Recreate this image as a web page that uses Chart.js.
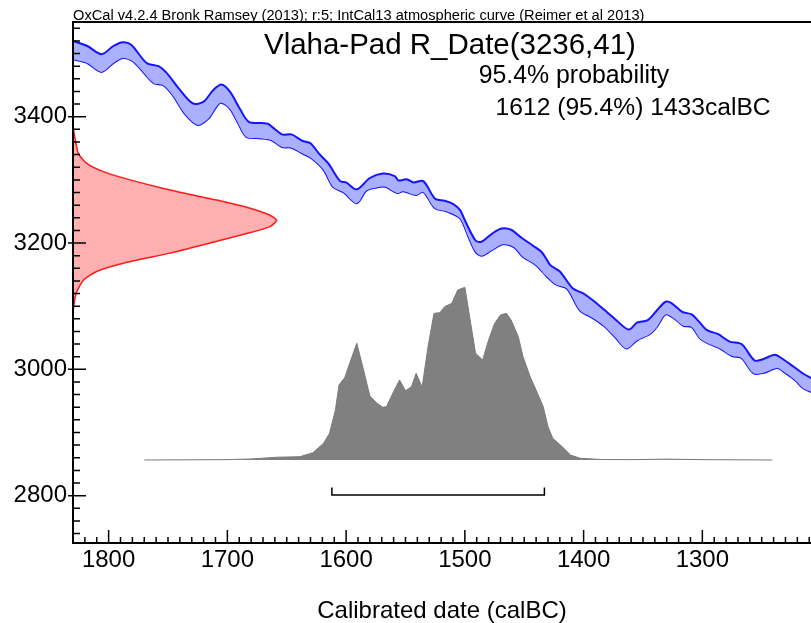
<!DOCTYPE html>
<html>
<head>
<meta charset="utf-8">
<script src="https://cdn.jsdelivr.net/npm/chart.js@4"></script>
<style>
  html, body { margin: 0; padding: 0; background: #fff; }
  #wrap { width: 811px; height: 623px; }
</style>
</head>
<body>
<div id="wrap"><canvas id="myChart" width="811" height="623"></canvas></div>
<script>
const FONT = '"Liberation Sans", Arial, Helvetica, sans-serif';

// axis tick labels
const xTickValues = [1800, 1700, 1600, 1500, 1400, 1300];
const yTickValues = [2800, 3000, 3200, 3400];

// calibration curve (IntCal13, 1 sigma band), calBC vs radiocarbon age BP
const upperYears = [1830, 1818, 1806, 1796, 1788, 1781, 1768, 1758, 1751, 1741,
  1729, 1720, 1712, 1705, 1698, 1689, 1682, 1671, 1666, 1661,
  1654, 1646, 1637, 1630, 1623, 1615, 1605, 1600, 1591, 1580,
  1569, 1559, 1556, 1549, 1543, 1535, 1525, 1517, 1510, 1504,
  1500, 1491, 1486, 1477, 1469, 1461, 1452, 1442, 1435, 1428,
  1420, 1409, 1400, 1392, 1380, 1372, 1362, 1355, 1346, 1338,
  1331, 1326, 1317, 1309, 1303, 1296, 1287, 1277, 1267, 1256,
  1249, 1239, 1232, 1223, 1215, 1208];
const upperAge = [3520, 3512, 3499, 3512, 3518, 3514, 3485, 3480, 3469, 3445,
  3421, 3424, 3442, 3451, 3440, 3411, 3392, 3390, 3389, 3382,
  3372, 3372, 3362, 3358, 3342, 3326, 3298, 3296, 3285, 3303,
  3310, 3306, 3299, 3301, 3296, 3298, 3270, 3267, 3262, 3252,
  3236, 3204, 3202, 3215, 3223, 3221, 3208, 3195, 3185, 3165,
  3155, 3128, 3120, 3109, 3090, 3077, 3063, 3074, 3078, 3094,
  3107, 3105, 3091, 3087, 3076, 3062, 3056, 3044, 3040, 3014,
  3016, 3023, 3016, 3004, 2993, 2986];

const lowerYears = [1830, 1818, 1806, 1796, 1788, 1779, 1762, 1754, 1746, 1736,
  1725, 1716, 1706, 1698, 1691, 1684, 1673, 1663, 1654, 1646,
  1637, 1629, 1619, 1611, 1602, 1591, 1583, 1574, 1567, 1557,
  1552, 1541, 1535, 1525, 1515, 1504, 1497, 1491, 1486, 1477,
  1468, 1459, 1451, 1440, 1431, 1423, 1414, 1403, 1393, 1383,
  1373, 1364, 1355, 1344, 1338, 1331, 1324, 1316, 1309, 1302,
  1295, 1285, 1275, 1267, 1257, 1249, 1237, 1230, 1222, 1215,
  1208];
const lowerAge = [3491, 3485, 3471, 3485, 3493, 3487, 3453, 3450, 3434, 3405,
  3387, 3397, 3422, 3413, 3390, 3368, 3366, 3363, 3352, 3351,
  3342, 3334, 3316, 3289, 3280, 3263, 3283, 3288, 3289, 3279,
  3282, 3276, 3281, 3255, 3250, 3239, 3210, 3186, 3180, 3189,
  3198, 3194, 3178, 3165, 3147, 3134, 3128, 3093, 3082, 3069,
  3050, 3033, 3046, 3056, 3068, 3087, 3081, 3069, 3067, 3049,
  3041, 3033, 3021, 3018, 2994, 2994, 3002, 2994, 2983, 2970,
  2964];

// measured radiocarbon date (3236 +/- 41), relative density
const redAge = [3385, 3374, 3342, 3326, 3313, 3300, 3284, 3268, 3255, 3244, 3236,
  3226, 3215, 3200, 3184, 3168, 3155, 3141, 3120, 3094, 3085];
const redDensity = [0, 0.005, 0.026, 0.067, 0.149, 0.28, 0.476, 0.705, 0.869, 0.967, 1.0,
  0.967, 0.853, 0.673, 0.476, 0.247, 0.116, 0.051, 0.015, 0.001, 0];

// calibrated probability, relative
const grayYears = [1770, 1700, 1680, 1658, 1639, 1628, 1619, 1614, 1609, 1606,
  1601, 1597, 1591, 1586, 1580, 1574, 1569, 1566, 1560, 1555,
  1550, 1545, 1541, 1536, 1531, 1526, 1521, 1517, 1511, 1506,
  1500, 1496, 1491, 1485, 1480, 1475, 1470, 1465, 1461, 1455,
  1451, 1445, 1440, 1434, 1430, 1426, 1418, 1411, 1403, 1386,
  1360, 1330, 1300, 1241];
const grayProb = [0, 0.002, 0.006, 0.016, 0.019, 0.042, 0.097, 0.154, 0.29, 0.434,
  0.479, 0.56, 0.676, 0.54, 0.37, 0.328, 0.305, 0.309, 0.396, 0.463,
  0.401, 0.424, 0.502, 0.421, 0.656, 0.849, 0.853, 0.888, 0.907, 0.984,
  1.0, 0.83, 0.618, 0.579, 0.695, 0.79, 0.84, 0.849, 0.81, 0.714,
  0.598, 0.482, 0.405, 0.309, 0.193, 0.126, 0.077, 0.029, 0.01, 0.003,
  0.002, 0.005, 0.002, 0];

// 95.4% range
const rangeFrom = 1612;
const rangeTo = 1433;

const pts = (xs, ys) => xs.map((x, i) => ({ x: x, y: ys[i] }));

function fitText(c, text, x, y, width) {
  c.font = '100px ' + FONT;
  const w = c.measureText(text).width;
  c.font = (100 * width / w).toFixed(2) + 'px ' + FONT;
  c.textAlign = 'left';
  c.textBaseline = 'alphabetic';
  c.fillText(text, x, y);
}

const frame = {
  id: 'frame',
  afterDatasetsDraw(chart) {
    const c = chart.ctx, a = chart.chartArea;
    const xs = chart.scales.x, ys = chart.scales.y;
    c.save();
    c.strokeStyle = '#000';
    c.lineWidth = 1.5;
    c.beginPath();
    for (let v = 1210; v <= 1830; v += 10) {
      const px = xs.getPixelForValue(v);
      const len = v % 100 === 0 ? 13 : 6;
      c.moveTo(px, a.bottom);
      c.lineTo(px, a.bottom - len);
    }
    for (let v = 2740; v <= 3540; v += 20) {
      const py = ys.getPixelForValue(v);
      const major = v % 200 === 0;
      c.moveTo(a.left - (major ? 5 : 0), py);
      c.lineTo(a.left + (major ? 13 : 7), py);
    }
    c.stroke();
    c.lineWidth = 2;
    c.beginPath();
    c.moveTo(chart.width, a.top);
    c.lineTo(a.left, a.top);
    c.lineTo(a.left, a.bottom);
    c.lineTo(chart.width, a.bottom);
    c.stroke();

    c.fillStyle = '#000';
    fitText(c, 'OxCal v4.2.4 Bronk Ramsey (2013); r:5; IntCal13 atmospheric curve (Reimer et al 2013)', 73, 19.5, 572);
    fitText(c, 'Vlaha-Pad R_Date(3236,41)', 264, 53.7, 372);
    fitText(c, '95.4% probability', 478.7, 83.4, 190.6);
    fitText(c, '1612 (95.4%) 1433calBC', 495.6, 115.1, 275);
    c.restore();
  }
};

const ctx = document.getElementById('myChart');
new Chart(ctx, {
  type: 'line',
  data: {
    datasets: [
      {
        data: pts(upperYears, upperAge),
        borderColor: '#1414ff',
        backgroundColor: '#aab0ff',
        borderWidth: 2,
        pointRadius: 0,
        tension: 0.3,
        fill: '+1',
      },
      {
        data: pts(lowerYears, lowerAge),
        borderColor: '#1414ff',
        borderWidth: 2,
        pointRadius: 0,
        tension: 0.3,
        fill: false,
      },
      {
        data: pts(redDensity, redAge),
        xAxisID: 'xd',
        borderColor: '#ff1a1a',
        backgroundColor: '#ffb0b0',
        borderWidth: 1.5,
        pointRadius: 0,
        tension: 0.2,
        fill: 'shape',
      },
      {
        data: pts(grayYears, grayProb),
        yAxisID: 'yd',
        borderColor: '#7a7a7a',
        backgroundColor: '#808080',
        borderWidth: 1,
        pointRadius: 0,
        fill: 'origin',
      },
      {
        data: [
          { x: rangeFrom, y: 2813 },
          { x: rangeFrom, y: 2801 },
          { x: rangeTo, y: 2801 },
          { x: rangeTo, y: 2813 },
        ],
        borderColor: '#000',
        borderWidth: 1.5,
        pointRadius: 0,
        fill: false,
      },
    ],
  },
  options: {
    responsive: false,
    animation: false,
    devicePixelRatio: 1,
    layout: { padding: { top: 22, right: 0, left: 0, bottom: 0 } },
    plugins: { legend: { display: false }, tooltip: { enabled: false } },
    scales: {
      x: {
        type: 'linear',
        position: 'bottom',
        reverse: true,
        min: 1208.5,
        max: 1830,
        grid: { display: false, drawTicks: false },
        border: { display: false },
        ticks: {
          padding: 5,
          color: '#000',
          maxRotation: 0,
          autoSkip: false,
          font: { family: FONT, size: 24, lineHeight: 1 },
          callback: (v) => String(v),
        },
        afterBuildTicks(s) { s.ticks = xTickValues.map((v) => ({ value: v })); },
        title: {
          display: true,
          text: 'Calibrated date (calBC)',
          color: '#000',
          padding: 0,
          font: { family: FONT, size: 24, lineHeight: 1 },
        },
        afterFit(s) { s.height = 80; },
      },
      y: {
        type: 'linear',
        position: 'left',
        min: 2725,
        max: 3550,
        grid: { display: false, drawTicks: false },
        border: { display: false },
        ticks: {
          padding: 6,
          color: '#000',
          autoSkip: false,
          font: { family: FONT, size: 24, lineHeight: 1 },
          callback: (v) => String(v),
        },
        afterBuildTicks(s) { s.ticks = yTickValues.map((v) => ({ value: v })); },
        afterFit(s) { s.width = 73; },
      },
      xd: { type: 'linear', display: false, position: 'bottom', min: 0, max: 3.623 },
      yd: { type: 'linear', display: false, position: 'left', min: -0.4806, max: 2.536 },
    },
  },
  plugins: [frame],
});
</script>
</body>
</html>
